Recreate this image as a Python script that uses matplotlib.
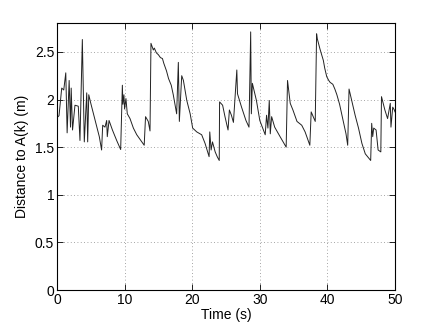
import matplotlib
matplotlib.use("Agg")
import matplotlib.pyplot as plt

time_s = [0.0, 0.3, 0.7, 1.0, 1.3, 1.5, 1.8, 2.0, 2.1, 2.3, 2.66, 3.15, 3.4, 3.75, 4.04, 4.4, 4.54, 4.7,
          5.0, 5.4, 5.9, 6.26, 6.6, 6.76, 7.1, 7.35, 7.44, 7.7, 8.2, 8.83, 9.42, 9.67, 9.75, 9.9, 10.0,
          10.2, 10.4, 10.8, 11.3, 11.8, 12.4, 12.9,
          13.1, 13.5, 13.76, 13.9, 14.05, 14.25, 14.4, 14.7, 15.0, 15.3, 15.6, 15.8, 16.2, 16.5, 16.9,
          17.2, 17.4, 17.7, 17.95, 18.1, 18.45, 18.7, 19.2,
          19.7, 20.07, 20.67, 21.4, 21.9, 22.5, 22.6, 22.8, 23.0, 23.4, 23.7, 24.0, 24.05, 24.5, 24.85,
          25.3, 25.5, 25.8, 26.1, 26.6, 26.7, 27.3, 27.95, 28.4, 28.65, 28.75, 28.9, 29.5, 30.0, 30.8,
          31.0, 31.2, 31.4, 31.55, 31.75, 32.2, 33.0, 33.9, 34.1, 34.5, 34.9, 35.5, 36.2, 36.7, 37.4,
          37.6, 38.2, 38.4, 38.5, 38.65, 38.8, 38.9, 39.2, 39.4, 39.6, 39.9, 40.2, 40.4, 40.8, 41.1,
          41.4, 41.8, 42.1, 42.35, 42.75, 43.0, 43.2, 43.6,
          44.1, 44.6, 45.1, 45.6, 46.4, 46.55, 46.7, 46.85, 47.2, 47.5, 47.9, 48.0, 48.5, 48.9, 49.3,
          49.4, 49.66, 49.9, 50.0]
distance_m = [1.81, 1.83, 2.12, 2.10, 2.28, 1.65, 2.20, 1.71, 2.12, 1.68, 1.94, 1.93, 1.57, 2.63, 1.555,
              2.07, 1.555, 2.05, 1.96, 1.85, 1.71, 1.61, 1.47, 1.73, 1.71, 1.78, 1.61, 1.78, 1.68, 1.57,
              1.475, 2.15, 1.95, 2.05, 1.90, 2.01, 1.85, 1.80, 1.70, 1.63, 1.57, 1.52,
              1.82, 1.77, 1.67, 2.59, 2.56, 2.52, 2.54, 2.49, 2.47, 2.44, 2.43, 2.38, 2.30, 2.22, 2.15,
              2.05, 1.97, 1.85, 2.39, 1.77, 2.25, 2.20, 1.99,
              1.85, 1.70, 1.66, 1.63, 1.54, 1.40, 1.66, 1.47, 1.555, 1.45,
              1.40, 1.36, 1.975, 1.94, 1.82, 1.68, 1.89, 1.835, 1.76, 2.31, 2.06, 1.92, 1.78, 1.71, 2.71,
              1.85, 2.17, 1.99, 1.78, 1.63, 1.835, 1.70, 1.99, 1.64, 1.82, 1.71, 1.61, 1.50, 2.20, 1.96,
              1.89, 1.77, 1.73, 1.66, 1.52, 1.87, 1.77, 2.69, 2.64, 2.60, 2.56, 2.53, 2.46, 2.41, 2.33,
              2.24, 2.20, 2.18, 2.16, 2.11, 2.05, 1.95, 1.85,
              1.77, 1.64, 1.52, 2.11, 1.99, 1.835, 1.70, 1.54, 1.43, 1.36, 1.75, 1.61, 1.70, 1.68, 1.47,
              1.45, 2.03, 1.89, 1.80, 1.96, 1.71, 1.92, 1.89, 1.87]

xticks = [0, 10, 20, 30, 40, 50]
yticks = [0, 0.5, 1, 1.5, 2, 2.5]

plt.rcParams['font.family'] = ['Liberation Sans', 'DejaVu Sans']
fig = plt.figure(figsize=(4.36, 3.27), dpi=100)
ax = fig.add_axes([0.1307, 0.1131, 0.7753, 0.8156])
ax.plot(time_s, distance_m, color='#222222', linewidth=0.7)
ax.set_xlim(0, 50)
ax.set_ylim(0, 2.8)
ax.set_xticks(xticks)
ax.set_yticks(yticks)
ax.set_xticklabels([str(v) for v in xticks])
ax.set_yticklabels(['0', '0.5', '1', '1.5', '2', '2.5'])
ax.grid(True, linestyle=(0, (1, 3)), color='#888888', linewidth=0.6)
ax.tick_params(direction='in', top=True, right=True, labelsize=10, length=4, width=0.6, pad=2)
for s in ax.spines.values():
    s.set_linewidth(0.8)
ax.set_xlabel('Time (s)', fontsize=10, labelpad=1)
ax.set_ylabel('Distance to A(k) (m)', fontsize=10, labelpad=4)
fig.savefig('out.png', dpi=100)
